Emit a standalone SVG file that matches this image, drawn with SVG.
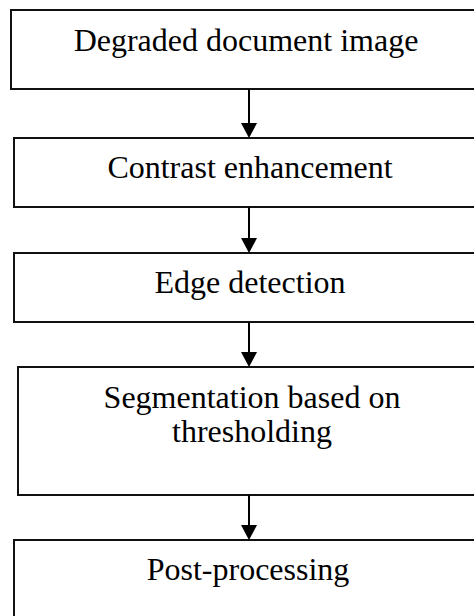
<svg xmlns="http://www.w3.org/2000/svg" width="474" height="616" viewBox="0 0 474 616">
  <style>
    .box { fill: #ffffff; stroke: #111111; stroke-width: 2; }
    .label { font-family: "Liberation Serif", "Times New Roman", serif; font-size: 32px; fill: #000000; text-anchor: middle; }
    .link { stroke: #000000; stroke-width: 2; fill: none; }
    .head { fill: #000000; }
  </style>
  <rect width="474" height="616" fill="#ffffff"/>

  <g id="node-degraded">
    <rect class="box" x="11" y="10" width="470" height="79"/>
    <text class="label" x="246" y="51">Degraded document image</text>
  </g>
  <g id="node-contrast">
    <rect class="box" x="14" y="138" width="470" height="69"/>
    <text class="label" x="250" y="178">Contrast enhancement</text>
  </g>
  <g id="node-edge">
    <rect class="box" x="14" y="253" width="470" height="69"/>
    <text class="label" x="250" y="293">Edge detection</text>
  </g>
  <g id="node-segmentation">
    <rect class="box" x="18" y="367" width="470" height="128"/>
    <text class="label" x="252" y="408">Segmentation based on</text>
    <text class="label" x="252" y="442">thresholding</text>
  </g>
  <g id="node-postprocessing">
    <rect class="box" x="14" y="540" width="470" height="90"/>
    <text class="label" x="248" y="580">Post-processing</text>
  </g>

  <g id="connectors">
    <line class="link" x1="249" y1="89" x2="249" y2="124"/>
    <polygon class="head" points="241,123 257,123 249,138"/>
    <line class="link" x1="249" y1="207" x2="249" y2="239"/>
    <polygon class="head" points="241,238 257,238 249,253"/>
    <line class="link" x1="249" y1="322" x2="249" y2="353"/>
    <polygon class="head" points="241,352 257,352 249,367"/>
    <line class="link" x1="249" y1="495" x2="249" y2="526"/>
    <polygon class="head" points="241,525 257,525 249,540"/>
  </g>
</svg>
